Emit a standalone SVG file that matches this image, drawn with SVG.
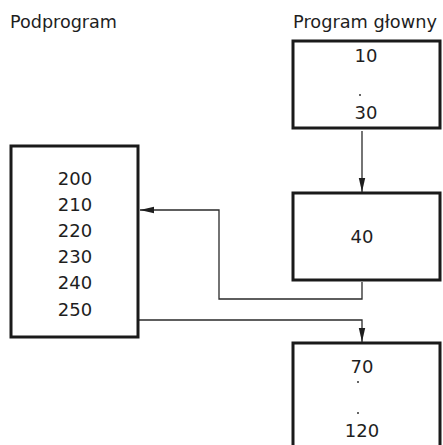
<svg xmlns="http://www.w3.org/2000/svg" width="443" height="445" viewBox="0 0 443 445">
<style>
.box{fill:#fff;stroke:#1a1a1a;stroke-width:3}
.t{font-family:"DejaVu Sans",sans-serif;font-size:18px;fill:#1e1e1e;text-anchor:middle}
.lbl{font-family:"DejaVu Sans",sans-serif;font-size:17px;fill:#1e1e1e}
.c{fill:none;stroke:#2a2a2a;stroke-width:1.3}
.dot{fill:#333}
</style>
<defs>
<marker id="ah" viewBox="0 0 14 8" refX="14" refY="4" markerWidth="14" markerHeight="8" markerUnits="userSpaceOnUse" orient="auto">
<path d="M0,0.8 L14,4 L0,7.2 Z" fill="#1e1e1e"/>
</marker>
</defs>
<rect width="443" height="445" fill="#fff"/>
<g id="labels">
<text class="lbl" x="10" y="28" textLength="107" lengthAdjust="spacingAndGlyphs">Podprogram</text>
<text class="lbl" x="293" y="28" textLength="144" lengthAdjust="spacingAndGlyphs">Program głowny</text>
</g>
<g id="connectors">
<path class="c" d="M362,131 V192" marker-end="url(#ah)"/>
<path class="c" d="M362,282 V299 H219 V210 H140" marker-end="url(#ah)"/>
<path class="c" d="M139,320 H362 V342" marker-end="url(#ah)"/>
</g>
<g id="main-10-30">
<rect class="box" x="293" y="41" width="147" height="87"/>
<text class="t" x="366" y="62">10</text>
<circle class="dot" cx="360" cy="95" r="1"/>
<text class="t" x="366" y="119">30</text>
</g>
<g id="main-40">
<rect class="box" x="293" y="193" width="147" height="87"/>
<text class="t" x="362" y="243">40</text>
</g>
<g id="main-70-120">
<rect class="box" x="293" y="343" width="147" height="110"/>
<text class="t" x="362" y="373">70</text>
<circle class="dot" cx="358" cy="382" r="1"/>
<circle class="dot" cx="358" cy="413" r="1"/>
<text class="t" x="362" y="437">120</text>
</g>
<g id="subprogram">
<rect class="box" x="11" y="146" width="127" height="191"/>
<text class="t" x="75" y="185">200</text>
<text class="t" x="75" y="211">210</text>
<text class="t" x="75" y="237">220</text>
<text class="t" x="75" y="263">230</text>
<text class="t" x="75" y="289">240</text>
<text class="t" x="75" y="316">250</text>
</g>
</svg>
